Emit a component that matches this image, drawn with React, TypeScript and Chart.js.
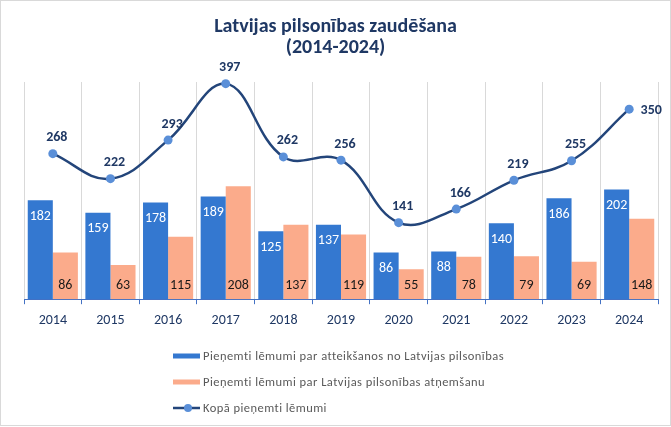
import React, { useEffect, useRef } from 'react';
import { Chart, registerables } from 'chart.js';

Chart.register(...registerables);

const years = ['2014', '2015', '2016', '2017', '2018', '2019', '2020', '2021', '2022', '2023', '2024'];
const renounced = [182, 159, 178, 189, 125, 137, 86, 88, 140, 186, 202];
const revoked = [86, 63, 115, 208, 137, 119, 55, 78, 79, 69, 148];
const total = [268, 222, 293, 397, 262, 256, 141, 166, 219, 255, 350];
const titleLines = ['Latvijas pilsonības zaudēšana', '(2014-2024)'];
const seriesNames = [
  'Pieņemti lēmumi par atteikšanos no Latvijas pilsonības',
  'Pieņemti lēmumi par Latvijas pilsonības atņemšanu',
  'Kopā pieņemti lēmumi',
];

const FONT = 'Carlito, Calibri, Lato, sans-serif';
const BLUE = '#3478d0';
const SALMON = '#fbab8b';
const NAVY = '#1f3864';
const LINE = '#23457a';
const MARKER = '#5a8fd8';

const customPlugin = {
  id: 'customDraw',
  afterDatasetsDraw(chart: any) {
    const ctx = chart.ctx;
    ctx.save();
    ctx.textAlign = 'center';
    ctx.textBaseline = 'middle';
    ctx.font = `14px ${FONT}`;
    const mBlue = chart.getDatasetMeta(0);
    mBlue.data.forEach((el: any, i: number) => {
      ctx.fillStyle = '#ffffff';
      ctx.fillText(String(renounced[i]), el.x, el.y + 16);
    });
    const mSal = chart.getDatasetMeta(1);
    mSal.data.forEach((el: any, i: number) => {
      ctx.fillStyle = '#1a1a1a';
      ctx.fillText(String(revoked[i]), el.x, el.base - 14);
    });
    const mLine = chart.getDatasetMeta(2);
    ctx.font = `bold 14px ${FONT}`;
    ctx.fillStyle = NAVY;
    mLine.data.forEach((el: any, i: number) => {
      const last = i === mLine.data.length - 1;
      const dx = last ? 22 : 4;
      const dy = last ? 1 : -16;
      ctx.fillText(String(total[i]), el.x + dx, el.y + dy);
    });
    ctx.restore();
  },
  afterDraw(chart: any) {
    const ctx = chart.ctx;
    ctx.save();
    ctx.fillStyle = NAVY;
    ctx.textAlign = 'center';
    ctx.textBaseline = 'alphabetic';
    ctx.font = `bold 20px ${FONT}`;
    ctx.fillText(titleLines[0], 335.5, 32);
    ctx.fillText(titleLines[1], 335.5, 53);

    const lx = 173;
    const tx = 203;
    const rows = [356, 382, 408];
    ctx.textAlign = 'left';
    ctx.textBaseline = 'middle';
    ctx.fillStyle = BLUE;
    ctx.fillRect(lx, rows[0] - 2.5, 27, 5);
    ctx.fillStyle = SALMON;
    ctx.fillRect(lx, rows[1] - 2.5, 27, 5);
    ctx.strokeStyle = LINE;
    ctx.lineWidth = 2.5;
    ctx.beginPath();
    ctx.moveTo(lx, rows[2]);
    ctx.lineTo(lx + 27, rows[2]);
    ctx.stroke();
    ctx.fillStyle = MARKER;
    ctx.beginPath();
    ctx.arc(lx + 15, rows[2], 4, 0, Math.PI * 2);
    ctx.fill();
    ctx.fillStyle = '#595959';
    ctx.font = `12.5px ${FONT}`;
    (ctx as any).letterSpacing = '0.45px';
    seriesNames.forEach((n, i) => ctx.fillText(n, tx, rows[i] + 1));
    (ctx as any).letterSpacing = '0px';

    ctx.strokeStyle = '#d9d9d9';
    ctx.lineWidth = 1;
    ctx.strokeRect(0.5, 0.5, 670, 425);
    ctx.restore();
  },
};

export default function App() {
  const ref = useRef<HTMLCanvasElement | null>(null);
  useEffect(() => {
    if (!ref.current) return;
    const chart = new Chart(ref.current, {
      type: 'bar',
      data: {
        labels: years,
        datasets: [
          {
            type: 'bar',
            label: seriesNames[0],
            data: renounced,
            backgroundColor: BLUE,
            borderWidth: 0,
            categoryPercentage: 0.87,
            barPercentage: 1,
            order: 1,
          },
          {
            type: 'bar',
            label: seriesNames[1],
            data: revoked,
            backgroundColor: SALMON,
            borderWidth: 0,
            categoryPercentage: 0.87,
            barPercentage: 1,
            order: 1,
          },
          {
            type: 'line',
            label: seriesNames[2],
            data: total,
            borderColor: LINE,
            borderWidth: 2.5,
            tension: 0.4,
            pointRadius: 4.5,
            pointBackgroundColor: MARKER,
            pointBorderColor: MARKER,
            pointBorderWidth: 0,
            clip: false as any,
            order: 0,
          } as any,
        ],
      },
      options: {
        responsive: false,
        animation: false,
        devicePixelRatio: 1,
        layout: { padding: { left: 24, right: 13, top: 82, bottom: 90 } },
        plugins: {
          legend: { display: false },
          title: { display: false },
          tooltip: { enabled: false },
        },
        scales: {
          x: {
            grid: {
              offset: true,
              color: '#d9d9d9',
              tickColor: '#4472c4',
              tickLength: 5,
              drawTicks: true,
            },
            border: { color: '#4472c4', width: 1 },
            ticks: {
              color: NAVY,
              padding: 8,
              font: { size: 14, family: FONT },
            },
          },
          y: { display: false, min: 0, max: 400 },
        },
      },
      plugins: [customPlugin],
    });
    return () => chart.destroy();
  }, []);
  return (
    <div style={{ position: 'absolute', left: 0, top: 0, width: 671, height: 427, background: '#fff' }}>
      <canvas ref={ref} width={671} height={427} />
    </div>
  );
}
